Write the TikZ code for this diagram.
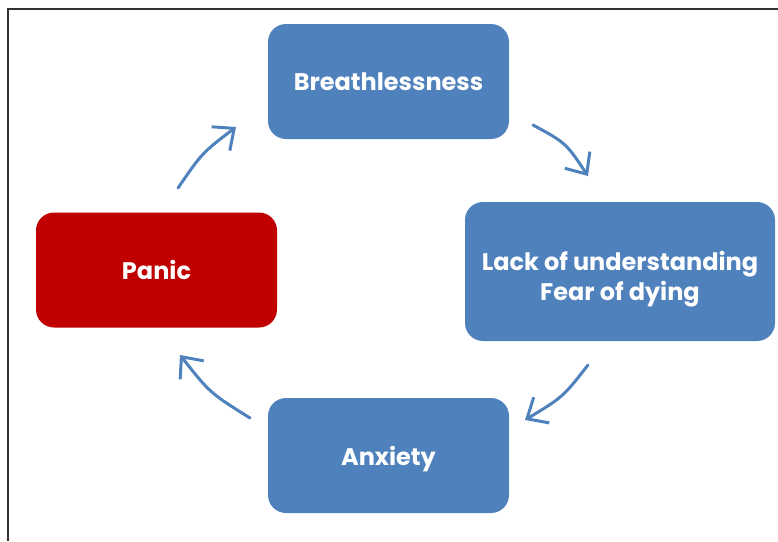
\documentclass[tikz,border=0pt]{standalone}
\usepackage{fontspec}
\setmainfont{Poppins}
\usetikzlibrary{positioning}
\usetikzlibrary{arrows.meta}

\definecolor{boxblue}{HTML}{4F81BD}
\definecolor{boxred}{HTML}{C00000}

\tikzset{
	stagebox/.style={rounded corners=18pt,fill=boxblue,text=white,align=center,
		minimum width=241pt,minimum height=115pt,font=\bfseries\fontsize{24}{30}\selectfont},
	stagetext/.style={text=white,align=center,font=\bfseries\fontsize{24}{30}\selectfont},
	cyclearrow/.style={boxblue,line width=3pt,line cap=round,
		-{Straight Barb[length=17pt,width=30pt,line width=3pt]}}
}

\begin{document}
\begin{tikzpicture}[x=1pt,y=-1pt]
	\useasboundingbox (0,0) rectangle (778,541);
	\draw[line width=1.5pt,black!80] (8,541)--(8,9)--(778,9);
	\node[stagebox] (breath) at (388.5,81.5) {Breathlessness};
	\node[stagebox,minimum width=310pt,minimum height=139pt,
		label={[stagetext,yshift=-8pt]center:Lack of understanding\\Fear of dying}] (lack) at (620,271.5) {};
	\node[stagebox,text depth=-4pt] (anxiety) at (388.5,455.5) {Anxiety};
	\node[stagebox,fill=boxred] (panic) at (156.5,270) {Panic};
	% arrow ends
	\coordinate (a1s) at (178,188);
	\coordinate (a1e) at (236,127);
	\coordinate (a2s) at (533,125);
	\coordinate (a2e) at (588,176);
	\coordinate (a3s) at (588,365);
	\coordinate (a3e) at (525,420);
	\coordinate (a4s) at (250,418);
	\coordinate (a4e) at (180,355);
	\draw[cyclearrow] (a1s) .. controls (202,153) .. (a1e);
	\draw[cyclearrow] (a2s) .. controls (566,143) .. (a2e);
	\draw[cyclearrow] (a3s) .. controls (563,397) .. (a3e);
	\draw[cyclearrow] (a4s) .. controls (210,393) .. (a4e);
\end{tikzpicture}
\end{document}
